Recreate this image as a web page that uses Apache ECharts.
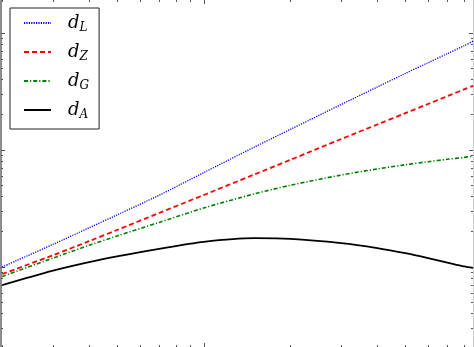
<!DOCTYPE html>
<html><head><meta charset="utf-8">
<script src="https://cdn.jsdelivr.net/npm/echarts@6/dist/echarts.min.js"></script>
<style>html,body{margin:0;padding:0;background:#fff}#c{width:474px;height:347px}</style>
</head><body><div id="c"></div>
<script>
// redshift z
const z  = [0.2, 0.3, 0.4, 0.5, 0.7, 1, 1.5, 2, 3, 4, 5, 6, 7, 8, 8.6];
// distances (Gpc)
const dL = [1.0, 1.56, 2.16, 2.78, 4.1, 6.4, 10.6, 15.0, 24.5, 34.5, 45.0, 55.6, 66.5, 77.6, 85.0];
const dZ = [0.87, 1.26, 1.66, 2.07, 2.89, 4.12, 6.18, 8.24, 12.4, 16.5, 20.6, 24.7, 28.8, 32.9, 35.3];
const dG = [0.83, 1.19, 1.53, 1.84, 2.40, 3.19, 4.21, 4.99, 6.10, 6.88, 7.47, 7.93, 8.31, 8.63, 8.85];
const dA = [0.70, 0.93, 1.10, 1.23, 1.43, 1.64, 1.76, 1.74, 1.60, 1.45, 1.31, 1.19, 1.09, 1.01, 0.98];
const names = ['dL', 'dZ', 'dG', 'dA'];
// axis extents and tick values
const xMin = 0.198, xMax = 8.59, yMin = 0.207, yMax = 191;
const xMajor = [1];
const xMinor = [0.2,0.3,0.4,0.5,0.6,0.7,0.8,0.9,2,3,4,5,6,7,8];
const yMajor = [1, 10, 100];
const yMinor = [0.3,0.4,0.5,0.6,0.7,0.8,0.9,2,3,4,5,6,7,8,9,20,30,40,50,60,70,80,90];

const chart = echarts.init(document.getElementById('c'), null, {renderer: 'canvas'});
function xAx(pos, vals, len, line) {
  return {type: 'log', position: pos, min: xMin, max: xMax, logBase: 10,
    axisLine: line ? {show: true, onZero: false, lineStyle: line} : {show: false},
    axisTick: {show: true, inside: true, length: len, customValues: vals, lineStyle: {color: '#555', width: 1}},
    axisLabel: {show: false}, splitLine: {show: false}, minorTick: {show: false}};
}
function yAx(pos, vals, len, line) {
  return {type: 'log', position: pos, min: yMin, max: yMax, logBase: 10,
    axisLine: line ? {show: true, onZero: false, lineStyle: line} : {show: false},
    axisTick: {show: true, inside: true, length: len, customValues: vals, lineStyle: {color: '#555', width: 1}},
    axisLabel: {show: false}, splitLine: {show: false}, minorTick: {show: false}};
}
const styles = [
  {color: '#0000ff', type: [1.2, 1.2], width: 1.3},
  {color: '#ff0000', type: [5, 3], width: 1.8},
  {color: '#008000', type: [4, 2, 1.2, 2], width: 1.6},
  {color: '#000000', type: 'solid', width: 1.8}
];
const vals = [dL, dZ, dG, dA];
chart.setOption({
  animation: false,
  backgroundColor: '#fff',
  grid: {left: 1, right: 1, top: 0, bottom: 0, containLabel: false},
  xAxis: [
    xAx('bottom', xMajor, 4, null),
    xAx('bottom', xMinor, 2, null),
    xAx('top', xMajor, 4, null),
    xAx('top', xMinor, 2, null)
  ],
  yAxis: [
    yAx('left', yMajor, 4, {color: '#8c8c8c', width: 2}),
    yAx('left', yMinor, 2, null),
    yAx('right', yMajor, 4, {color: '#cccccc', width: 1}),
    yAx('right', yMinor, 2, null)
  ],
  legend: {
    orient: 'vertical', left: 10, top: 8,
    padding: [4, 10, 8, 13],
    backgroundColor: '#fff', borderColor: '#222', borderWidth: 1,
    itemWidth: 27, itemHeight: 14, itemGap: 7,
    data: names,
    itemStyle: {opacity: 0, borderWidth: 0},
    formatter: n => '{d|d}{s|' + n.slice(1) + '}',
    textStyle: {
      color: '#000', padding: [0, 0, 0, 12],
      rich: {
        d: {fontFamily: 'DejaVu Serif', fontStyle: 'italic', fontSize: 18, lineHeight: 21, color: '#000'},
        s: {fontFamily: 'DejaVu Serif', fontStyle: 'italic', fontSize: 12, lineHeight: 21, padding: [10, 0, 0, 0], color: '#000'}
      }
    }
  },
  series: names.map((n, k) => ({
    name: n, type: 'line', xAxisIndex: 0, yAxisIndex: 0,
    symbol: 'none', smooth: 0.3, clip: true,
    lineStyle: styles[k], itemStyle: {color: styles[k].color},
    data: z.map((v, i) => [v, vals[k][i]])
  }))
});
</script></body></html>
